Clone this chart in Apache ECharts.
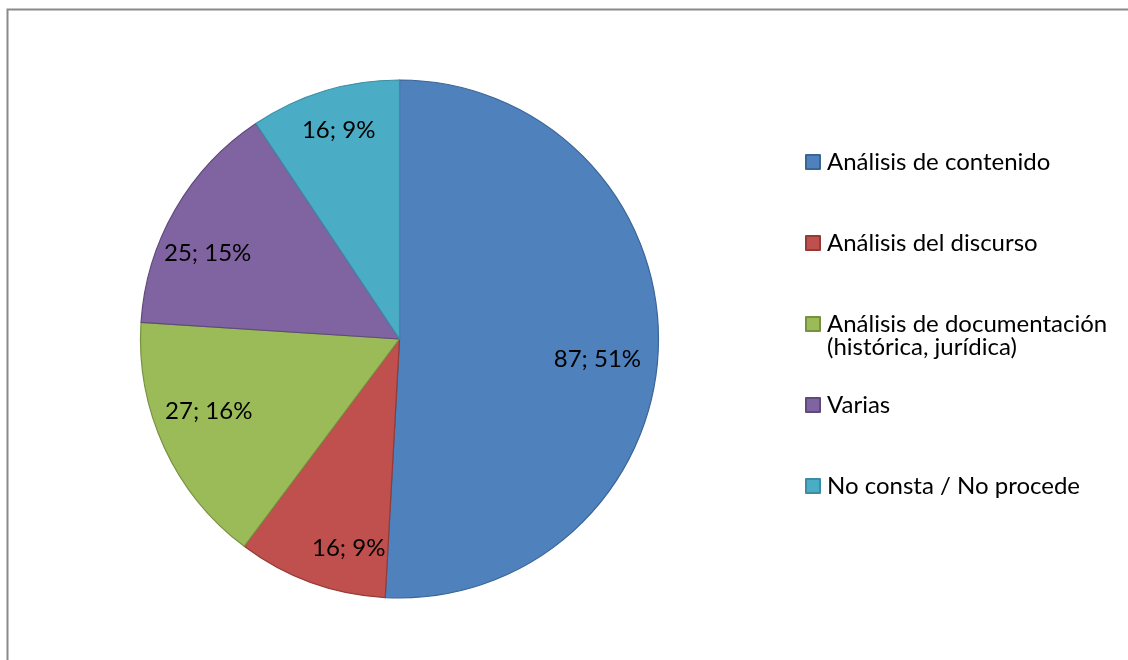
<!DOCTYPE html>
<html>
<head>
<meta charset="utf-8">
<script src="https://cdn.jsdelivr.net/npm/echarts@6/dist/echarts.min.js"></script>
<style>
html,body{margin:0;padding:0;background:#fff;}
#chart{width:1128px;height:660px;}
</style>
</head>
<body>
<div id="chart"></div>
<script>
const categories = [
  'Análisis de contenido',
  'Análisis del discurso',
  'Análisis de documentación\n(histórica, jurídica)',
  'Varias',
  'No consta / No procede'
];
const values = [87, 16, 27, 25, 16];
const colors = ['#4F81BD', '#C0504D', '#9BBB59', '#8064A2', '#4BACC6'];
const borderColors = ['#3A6596', '#943A37', '#76913F', '#604A7B', '#3A8DA3'];
// small nudges of the in-slice labels (Excel "best fit" placement)
const labelNudge = [[-12, 14], [21, 12], [0, -16], [-10, 19], [0, -8]];

const total = values.reduce((a, b) => a + b, 0);
const FONT = 'Lato';
const FS = 24;

const mainData = categories.map((name, i) => ({
  name: name,
  value: values[i],
  itemStyle: { color: colors[i], borderColor: borderColors[i], borderWidth: 1.2 }
}));
const labelData = categories.map((name, i) => ({
  name: name,
  value: values[i],
  label: { offset: labelNudge[i] }
}));

const chart = echarts.init(document.getElementById('chart'), null, { renderer: 'canvas' });
chart.setOption({
  animation: false,
  backgroundColor: '#ffffff',
  graphic: [{
    type: 'rect',
    shape: { x: 7.5, y: 9.5, width: 1300, height: 800 },
    style: { fill: 'none', stroke: '#8A8A8A', lineWidth: 2 },
    silent: true,
    z: -10
  }],
  legend: {
    orient: 'vertical',
    left: 805,
    top: 127,
    padding: 0,
    itemWidth: 14,
    itemHeight: 14,
    itemGap: 11,
    icon: 'rect',
    data: categories,
    selectedMode: false,
    textStyle: { fontFamily: FONT, fontSize: FS, color: '#000', lineHeight: 23, padding: [0, 0, 0, 2] },
    formatter: function (name) {
      return name.indexOf('\n') >= 0 ? ' \n' + name : ' \n' + name + '\n ';
    }
  },
  series: [{
    type: 'pie',
    center: [399.5, 339],
    radius: [0, 259],
    startAngle: 90,
    clockwise: true,
    label: { show: false },
    labelLine: { show: false },
    emphasis: { disabled: true },
    data: mainData
  }, {
    type: 'pie',
    center: [399.5, 339],
    radius: [155, 259],
    startAngle: 90,
    clockwise: true,
    silent: true,
    itemStyle: { color: 'rgba(0,0,0,0)', borderWidth: 0 },
    labelLine: { show: false },
    emphasis: { disabled: true },
    label: {
      show: true,
      position: 'inside',
      fontFamily: FONT,
      fontSize: FS,
      color: '#000',
      formatter: function (p) {
        return p.value + '; ' + Math.round(p.value / total * 100) + '%';
      }
    },
    data: labelData
  }]
});
</script>
</body>
</html>
